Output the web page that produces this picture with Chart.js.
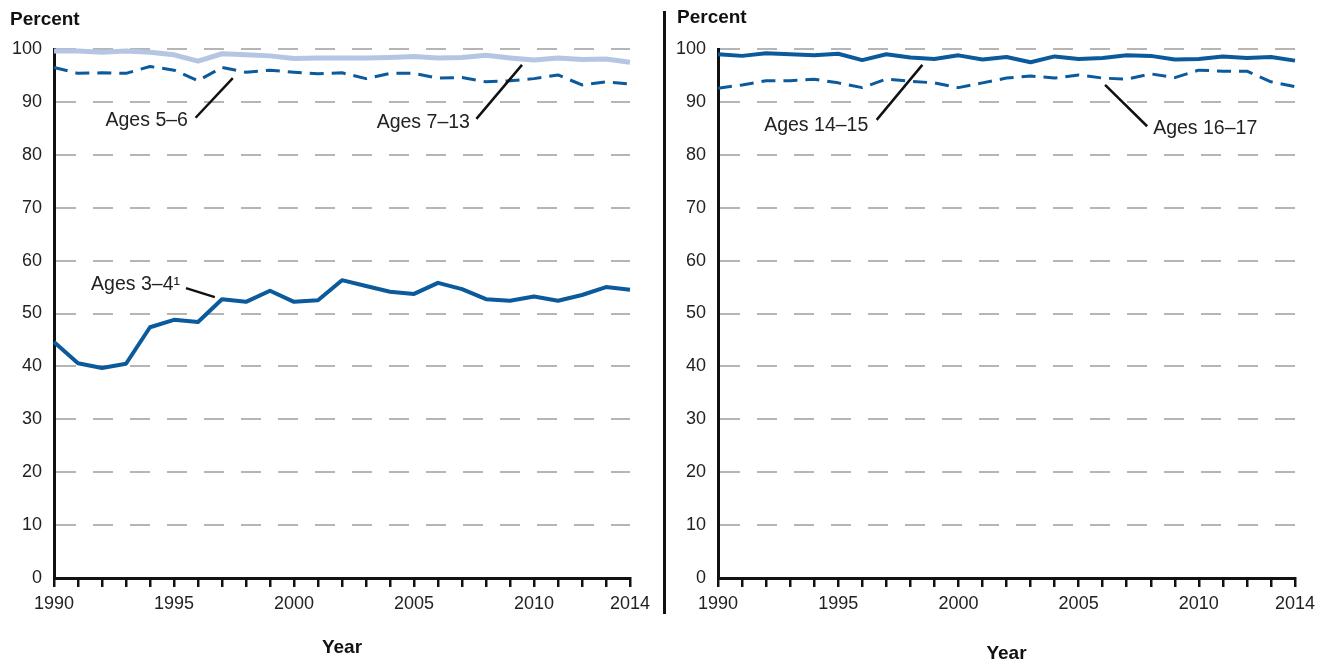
<!DOCTYPE html>
<html>
<head>
<meta charset="utf-8">
<script src="https://cdn.jsdelivr.net/npm/chart.js@4.4.1/dist/chart.umd.min.js"></script>
<style>
  body { margin: 0; background: #fff; }
  .panel { position: absolute; top: 0; }
  #divider { position: absolute; left: 663px; top: 11px; width: 3px; height: 603px; background: #111; }
</style>
</head>
<body>
<div class="panel" style="left:0"><canvas id="left" width="660" height="664"></canvas></div>
<div id="divider"></div>
<div class="panel" style="left:664px"><canvas id="right" width="661" height="664"></canvas></div>
<script>
// enrollment rates by age group, 1990-2014
const years = [1990, 1991, 1992, 1993, 1994, 1995, 1996, 1997, 1998, 1999, 2000, 2001, 2002,
  2003, 2004, 2005, 2006, 2007, 2008, 2009, 2010, 2011, 2012, 2013, 2014]
const ages3to4 = [44.6, 40.6, 39.7, 40.5, 47.4, 48.8, 48.4, 52.7, 52.2, 54.3, 52.2, 52.5, 56.3,
  55.2, 54.1, 53.7, 55.8, 54.6, 52.7, 52.4, 53.2, 52.4, 53.5, 55.0, 54.5]
const ages5to6 = [96.5, 95.4, 95.5, 95.4, 96.7, 96.0, 94.0, 96.5, 95.6, 96.0, 95.6, 95.3, 95.5,
  94.4, 95.4, 95.4, 94.5, 94.6, 93.8, 94.0, 94.4, 95.1, 93.2, 93.8, 93.4]
const ages7to13 = [99.6, 99.6, 99.4, 99.6, 99.4, 98.9, 97.7, 99.1, 98.9, 98.7, 98.2, 98.3, 98.3,
  98.3, 98.4, 98.6, 98.3, 98.4, 98.8, 98.3, 97.9, 98.3, 98.0, 98.1, 97.5]
const ages14to15 = [99.0, 98.7, 99.2, 99.0, 98.8, 99.1, 97.9, 99.0, 98.4, 98.1, 98.8, 98.0, 98.5,
  97.5, 98.6, 98.1, 98.3, 98.8, 98.7, 98.0, 98.1, 98.6, 98.3, 98.5, 97.8]
const ages16to17 = [92.6, 93.2, 94.0, 94.0, 94.3, 93.6, 92.7, 94.3, 93.9, 93.6, 92.7, 93.6, 94.5,
  94.9, 94.5, 95.1, 94.5, 94.3, 95.3, 94.6, 96.0, 95.8, 95.8, 93.8, 92.9]

const darkBlue = '#0b5a9c'
const lightBlue = '#b5c6e4'
const tickFont = { family: 'Liberation Sans', size: 18 }

const pts = (vals) => vals.map((v, i) => ({ x: years[i], y: v }))

// callout labels with leader lines, in data units
const leftNotes = [
  { text: 'Ages 5–6', at: [1995.58, 86.4], align: 'right', from: [1995.9, 87.0], to: [1997.45, 94.5] },
  { text: 'Ages 7–13', at: [2007.33, 86.0], align: 'right', from: [2007.6, 86.8], to: [2009.5, 97.0] },
  { text: 'Ages 3–4¹', at: [1995.25, 55.4], align: 'right', from: [1995.5, 54.8], to: [1996.7, 53.1] }
]
const rightNotes = [
  { text: 'Ages 14–15', at: [1996.25, 85.6], align: 'right', from: [1996.6, 86.6], to: [1998.5, 97.0] },
  { text: 'Ages 16–17', at: [2008.1, 84.9], align: 'left', from: [2007.85, 85.4], to: [2006.1, 93.2] }
]

const notesPlugin = {
  id: 'notes',
  afterDatasetsDraw (chart, args, opts) {
    const { ctx, chartArea } = chart
    const x = chart.scales.x, y = chart.scales.y
    ctx.save()
    ctx.fillStyle = '#222'
    ctx.strokeStyle = '#111'
    ctx.lineWidth = 2.5
    ctx.font = '19.5px "Liberation Sans"'
    ctx.textBaseline = 'middle'
    opts.notes.forEach(n => {
      ctx.beginPath()
      ctx.moveTo(x.getPixelForValue(n.from[0]), y.getPixelForValue(n.from[1]))
      ctx.lineTo(x.getPixelForValue(n.to[0]), y.getPixelForValue(n.to[1]))
      ctx.stroke()
      ctx.textAlign = n.align
      ctx.fillText(n.text, x.getPixelForValue(n.at[0]), y.getPixelForValue(n.at[1]))
    })
    // axis titles
    ctx.fillStyle = '#111'
    ctx.font = 'bold 19px "Liberation Sans"'
    ctx.textAlign = 'left'
    ctx.fillText('Percent', opts.percentX, opts.percentY)
    ctx.textAlign = 'center'
    ctx.fillText('Year', (chartArea.left + chartArea.right) / 2, opts.yearY)
    ctx.restore()
  }
}

const makeChart = (id, datasets, notes, percentX, percentY, yearY) => new Chart(document.getElementById(id), {
  type: 'line',
  data: { datasets },
  plugins: [notesPlugin],
  options: {
    responsive: false,
    animation: false,
    layout: { padding: { top: 49, right: 30, left: 0, bottom: 0 } },
    elements: { point: { radius: 0 }, line: { tension: 0, borderJoinStyle: 'round' } },
    plugins: {
      legend: { display: false },
      tooltip: { enabled: false },
      notes: { notes, percentX, percentY, yearY }
    },
    scales: {
      x: {
        type: 'linear',
        min: 1990,
        max: 2014,
        afterFit: (s) => { s.height = 86 },
        ticks: {
          stepSize: 1,
          autoSkip: false,
          maxRotation: 0,
          padding: 6,
          color: '#222',
          font: tickFont,
          callback: (v) => (v % 5 === 0 || v === 2014) ? String(v) : ''
        },
        grid: { drawOnChartArea: false, drawTicks: true, tickLength: 9, color: '#111', lineWidth: 2.5 },
        border: { color: '#111', width: 3 }
      },
      y: {
        min: 0,
        max: 100,
        afterFit: (s) => { s.width = 54 },
        ticks: { stepSize: 10, padding: 12, color: '#222', font: tickFont },
        grid: { drawTicks: false, color: '#b5b5b5', lineWidth: 2 },
        border: { color: '#111', width: 3, dash: [20, 17] }
      }
    }
  }
})

makeChart('left', [
  { label: 'Ages 7–13', data: pts(ages7to13), borderColor: lightBlue, borderWidth: 5, clip: false },
  { label: 'Ages 5–6', data: pts(ages5to6), borderColor: darkBlue, borderWidth: 3, borderDash: [14, 8], clip: false },
  { label: 'Ages 3–4', data: pts(ages3to4), borderColor: darkBlue, borderWidth: 4, clip: false }
], leftNotes, 10, 20, 648)

makeChart('right', [
  { label: 'Ages 16–17', data: pts(ages16to17), borderColor: darkBlue, borderWidth: 3, borderDash: [14, 8], clip: false },
  { label: 'Ages 14–15', data: pts(ages14to15), borderColor: darkBlue, borderWidth: 4, clip: false }
], rightNotes, 13, 18, 654)
</script>
</body>
</html>
